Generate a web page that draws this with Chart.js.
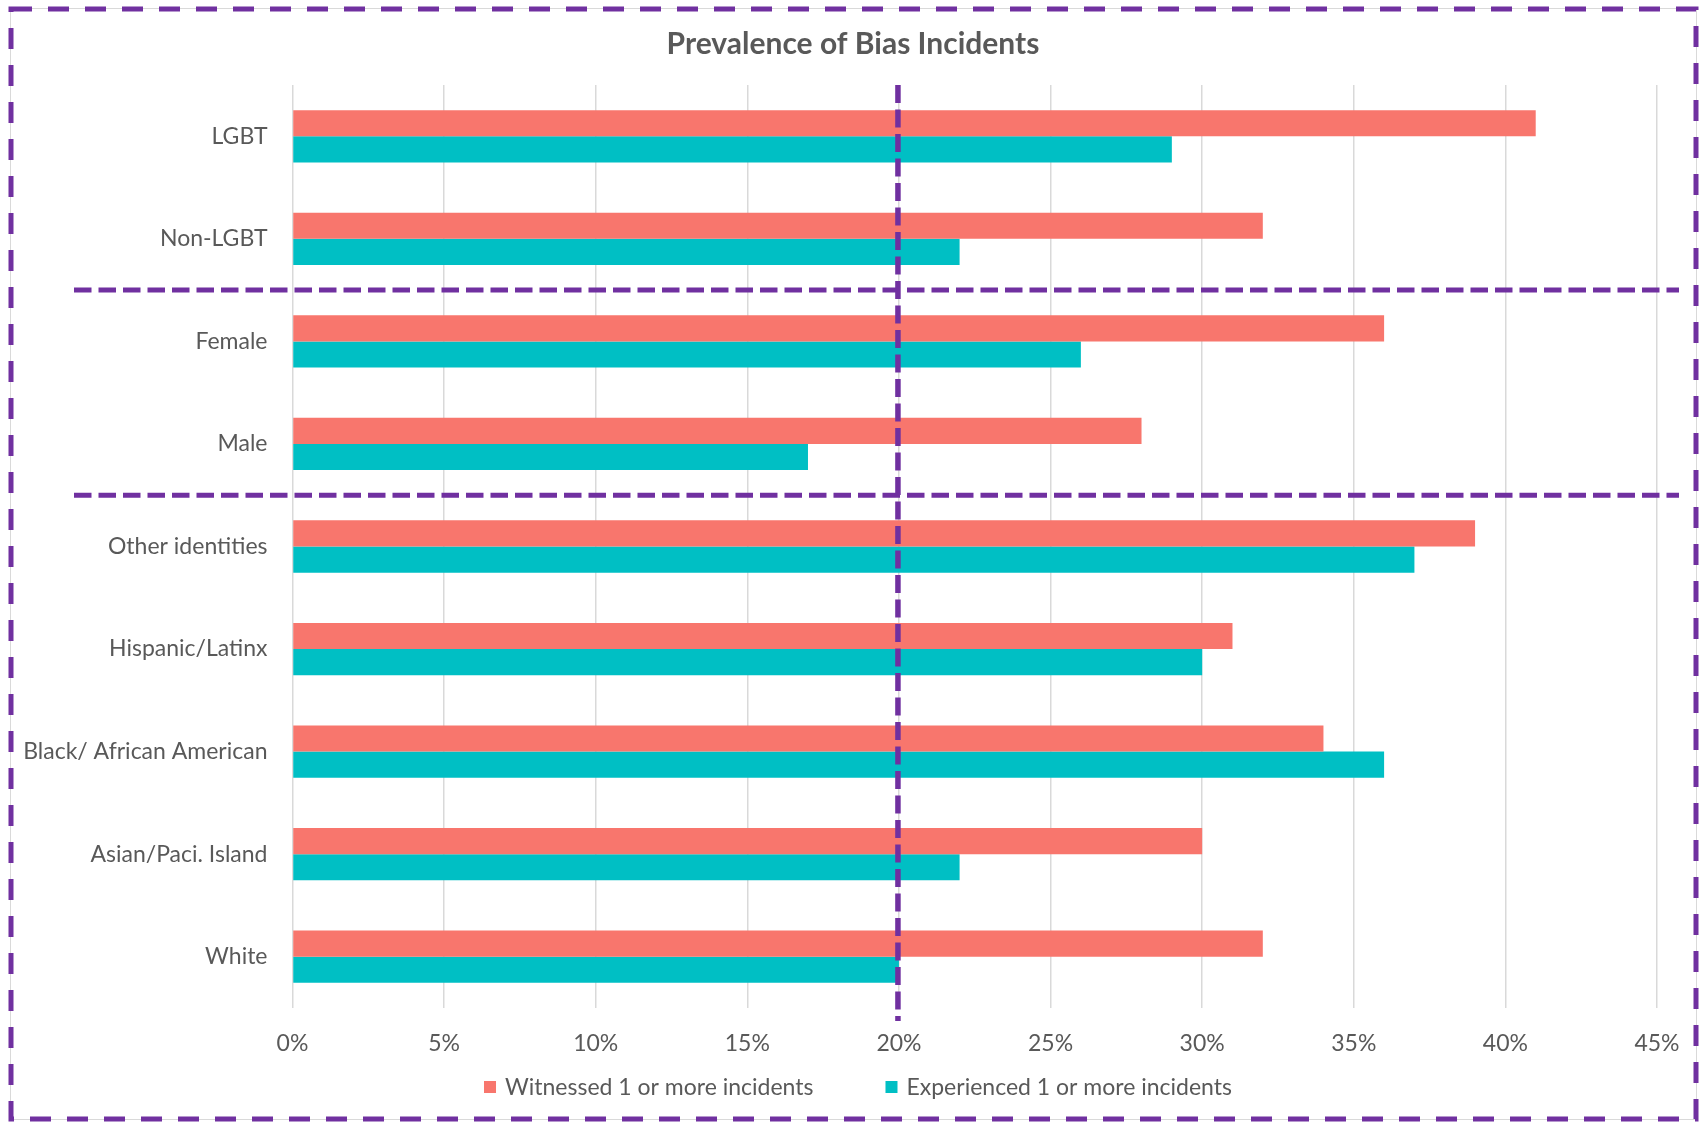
<!DOCTYPE html>
<html>
<head>
<meta charset="utf-8">
<title>Prevalence of Bias Incidents</title>
<script src="https://cdn.jsdelivr.net/npm/chart.js@4"></script>
<style>
  html, body { margin: 0; padding: 0; background: #fff; }
  #wrap { width: 1705px; height: 1127px; position: relative; }
</style>
</head>
<body>
<div id="wrap"><canvas id="biasChart"></canvas></div>
<script>
// ---- data ----
const CHART_TITLE = "Prevalence of Bias Incidents";
const CATEGORIES = [
  "LGBT", "Non-LGBT", "Female", "Male", "Other identities",
  "Hispanic/Latinx", "Black/ African American", "Asian/Paci. Island", "White"
];
const WITNESSED = [41, 32, 36, 28, 39, 31, 34, 30, 32];
const EXPERIENCED = [29, 22, 26, 17, 37, 30, 36, 22, 20];
const SERIES_LABELS = ["Witnessed 1 or more incidents", "Experienced 1 or more incidents"];
const X_TICKS = [0, 5, 10, 15, 20, 25, 30, 35, 40, 45];
const GROUP_BREAKS = [1.5, 3.5];   // between the LGBT / gender / race groups
const REFERENCE_PCT = 20;

const RED = '#F8766D';
const TEAL = '#00BFC4';
const PURPLE = '#7030A0';
const TEXT = '#595959';
const FONT = 'Lato, "Open Sans", sans-serif';

// title, dashed purple guides, outer frame and legend
const overlays = {
  id: 'overlays',
  afterDatasetsDraw(chart) {
    const { ctx, scales: { x, y }, chartArea } = chart;
    ctx.save();
    ctx.strokeStyle = PURPLE;
    ctx.lineWidth = 5;
    ctx.setLineDash([17.5, 7]);
    GROUP_BREAKS.forEach(v => {
      const py = y.getPixelForValue(v);
      ctx.beginPath();
      ctx.moveTo(74, py);
      ctx.lineTo(1679, py);
      ctx.stroke();
    });
    const px = x.getPixelForValue(REFERENCE_PCT) - 1;
    ctx.lineWidth = 5.5;
    ctx.setLineDash([18, 6.5]);
    ctx.beginPath();
    ctx.moveTo(px, chartArea.top);
    ctx.lineTo(px, chartArea.bottom + 13);
    ctx.stroke();
    ctx.restore();
  },
  afterDraw(chart) {
    const { ctx } = chart;
    ctx.save();
    // title
    ctx.font = 'bold 30px ' + FONT;
    ctx.fillStyle = TEXT;
    ctx.textAlign = 'center';
    ctx.textBaseline = 'middle';
    ctx.fillText(CHART_TITLE, 853, 44);

    // thin chart frame under the dashes
    ctx.strokeStyle = '#D9D9D9';
    ctx.lineWidth = 1;
    ctx.strokeRect(10.5, 8.5, 1686, 1111);
    ctx.strokeStyle = PURPLE;
    ctx.lineWidth = 5;
    ctx.setLineDash([21, 16]);
    ctx.strokeRect(11, 9, 1685, 1110);
    ctx.setLineDash([]);

    // legend
    ctx.font = '23px ' + FONT;
    ctx.textAlign = 'left';
    const box = 12, boxGap = 9, itemGap = 72, cy = 1087;
    const ds = chart.data.datasets;
    const widths = ds.map(d => box + boxGap + ctx.measureText(d.label).width);
    const total = widths.reduce((a, b) => a + b, 0) + itemGap * (ds.length - 1);
    let lx = 858 - total / 2;
    ds.forEach((d, i) => {
      ctx.fillStyle = d.backgroundColor;
      ctx.fillRect(lx, cy - box / 2, box, box);
      ctx.fillStyle = TEXT;
      ctx.fillText(d.label, lx + box + boxGap, cy + 1);
      lx += widths[i] + itemGap;
    });
    ctx.restore();
  }
};

const ctx = document.getElementById('biasChart').getContext('2d');
new Chart(ctx, {
  type: 'bar',
  data: {
    labels: CATEGORIES,
    datasets: [
      { label: SERIES_LABELS[0], data: WITNESSED, backgroundColor: RED },
      { label: SERIES_LABELS[1], data: EXPERIENCED, backgroundColor: TEAL }
    ]
  },
  options: {
    indexAxis: 'y',
    responsive: true,
    maintainAspectRatio: false,
    animation: false,
    layout: { padding: { left: 0, right: 48, top: 85, bottom: 72 } },
    datasets: { bar: { categoryPercentage: 0.51, barPercentage: 1.0 } },
    plugins: {
      legend: { display: false },
      tooltip: { enabled: false },
      title: { display: false }
    },
    scales: {
      x: {
        min: 0,
        max: 45,
        afterBuildTicks: s => { s.ticks = X_TICKS.map(v => ({ value: v })); },
        afterFit: s => { s.height = 47; },
        grid: { color: '#D9D9D9', lineWidth: 1.5, drawTicks: false },
        border: { display: false },
        ticks: {
          padding: 22,
          color: TEXT,
          font: { family: FONT, size: 23 },
          callback: v => v + '%'
        }
      },
      y: {
        afterFit: s => { s.width = 292.5; },
        grid: { display: false, drawTicks: false },
        border: { display: false },
        ticks: {
          padding: 25,
          color: TEXT,
          font: { family: FONT, size: 23 }
        }
      }
    }
  },
  plugins: [overlays]
});
</script>
</body>
</html>
